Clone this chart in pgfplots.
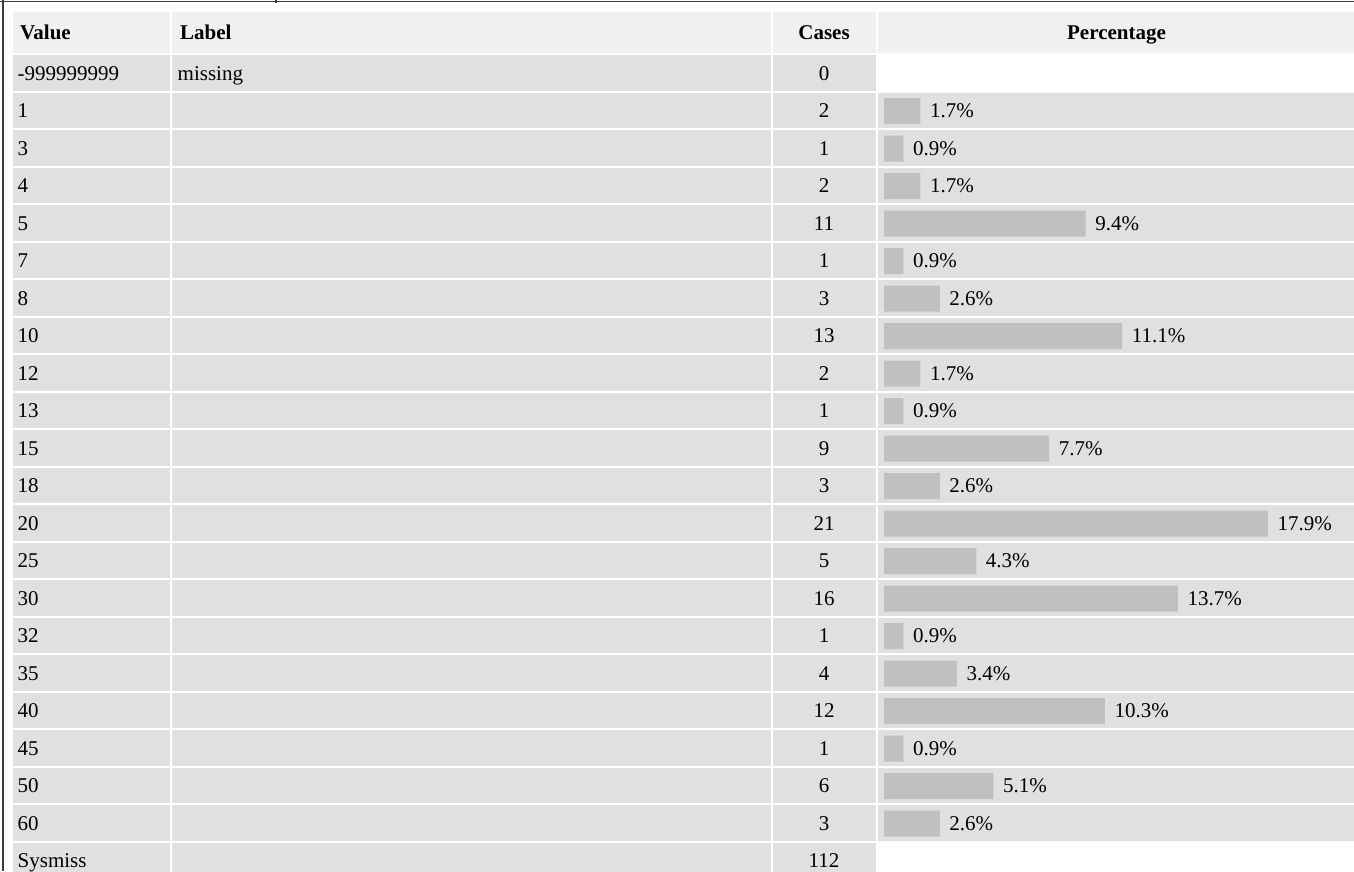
\documentclass[border=0pt]{standalone}
\usepackage{fontspec}
\setmainfont{Liberation Serif}
\usepackage{pgfplots}
\pgfplotsset{compat=1.18}
\usepackage{pgfplotstable}

\definecolor{cellgray}{HTML}{E0E0E0}
\definecolor{headgray}{HTML}{F0F0F0}
\definecolor{bargray}{HTML}{C0C0C0}
\definecolor{framegray}{HTML}{3A3A3A}

% frequency table, row 0 = -999999999 ... row 21 = Sysmiss
\pgfplotstableread{
row value cases
0  -999999999 0
1  1   2
2  3   1
3  4   2
4  5   11
5  7   1
6  8   3
7  10  13
8  12  2
9  13  1
10 15  9
11 18  3
12 20  21
13 25  5
14 30  16
15 32  1
16 35  4
17 40  12
18 45  1
19 50  6
20 60  3
21 Sysmiss 112
}\freqtable

% percentages (rows without a bar are left out)
\pgfplotstableread{
row pct
1  1.7
2  0.9
3  1.7
4  9.4
5  0.9
6  2.6
7  11.1
8  1.7
9  0.9
10 7.7
11 2.6
12 17.9
13 4.3
14 13.7
15 0.9
16 3.4
17 10.3
18 0.9
19 5.1
20 2.6
}\pcttable

\begin{document}
\begin{tikzpicture}[font=\fontsize{21}{25}\selectfont]
% table axis: x and y in pixels
\begin{axis}[
    name=tab, at={(0,0)}, anchor=south west,
    scale only axis, width=1354pt, height=871pt,
    xmin=0, xmax=1354, ymin=0, ymax=871, y dir=reverse,
    hide axis, clip=false,
  ]
  % header cells
  \fill[headgray] (axis cs:12.5,12) rectangle (axis cs:170,53);
  \fill[headgray] (axis cs:172,12) rectangle (axis cs:770.5,53);
  \fill[headgray] (axis cs:772.5,12) rectangle (axis cs:875.5,53);
  \fill[headgray] (axis cs:877.5,12) rectangle (axis cs:1354,53);
  % body cells
  \pgfplotsinvokeforeach{0,...,21}{
    \fill[cellgray] (axis cs:12.5,{55+37.5*#1}) rectangle (axis cs:170,{90.5+37.5*#1});
    \fill[cellgray] (axis cs:172,{55+37.5*#1}) rectangle (axis cs:770.5,{90.5+37.5*#1});
    \fill[cellgray] (axis cs:772.5,{55+37.5*#1}) rectangle (axis cs:875.5,{90.5+37.5*#1});
  }
  \pgfplotsinvokeforeach{1,...,20}{
    \fill[cellgray] (axis cs:877.5,{55+37.5*#1}) rectangle (axis cs:1354,{90.5+37.5*#1});
  }
  % frame
  \draw[framegray, line width=1.6pt] (axis cs:0,1.6) -- (axis cs:1354,1.6);
  \draw[framegray, line width=1.6pt] (axis cs:2.8,0) -- (axis cs:2.8,871);
  \draw[framegray, line width=1.2pt] (axis cs:276,0) -- (axis cs:276,2.8);

  % header text
  \node[anchor=base west, inner sep=0pt] at (axis cs:20,39.5) {\bfseries Value};
  \node[anchor=base west, inner sep=0pt] at (axis cs:180,39.5) {\bfseries Label};
  \node[anchor=base, inner sep=0pt] at (axis cs:824,39.5) {\bfseries Cases};
  \node[anchor=base, inner sep=0pt] at (axis cs:1116.5,39.5) {\bfseries Percentage};
  \node[anchor=base west, inner sep=0pt] at (axis cs:177.5,80) {missing};

  % value column
  \addplot[only marks, mark=none, point meta=explicit symbolic,
    nodes near coords,
    every node near coord/.append style={anchor=base west, inner sep=0pt, black}]
    table[x expr=17.5, y expr=80+37.5*\thisrow{row}, meta=value] {\freqtable};
  % cases column
  \addplot[only marks, mark=none, point meta=explicit symbolic,
    nodes near coords,
    every node near coord/.append style={anchor=base, inner sep=0pt, black}]
    table[x expr=824, y expr=80+37.5*\thisrow{row}, meta=cases] {\freqtable};
\end{axis}

% bar axis: x in percent, starting at pixel 884
\begin{axis}[
    at={(884pt,0pt)}, anchor=south west,
    scale only axis, width=470pt, height=871pt,
    xmin=0, xmax=21.91, ymin=0, ymax=871, y dir=reverse,
    hide axis, clip=false,
    xbar, bar width=26pt,
    point meta=explicit symbolic,
    nodes near coords={\pgfplotspointmeta\%},
    every node near coord/.append style={anchor=west, inner sep=0pt, xshift=9.5pt, black},
  ]
  \addplot[fill=bargray, draw=none]
    table[x=pct, y expr=73.5+37.5*\thisrow{row}, meta=pct] {\pcttable};
\end{axis}

\pgfresetboundingbox
\useasboundingbox (0,0) rectangle (1354pt,871pt);
\end{tikzpicture}
\end{document}
